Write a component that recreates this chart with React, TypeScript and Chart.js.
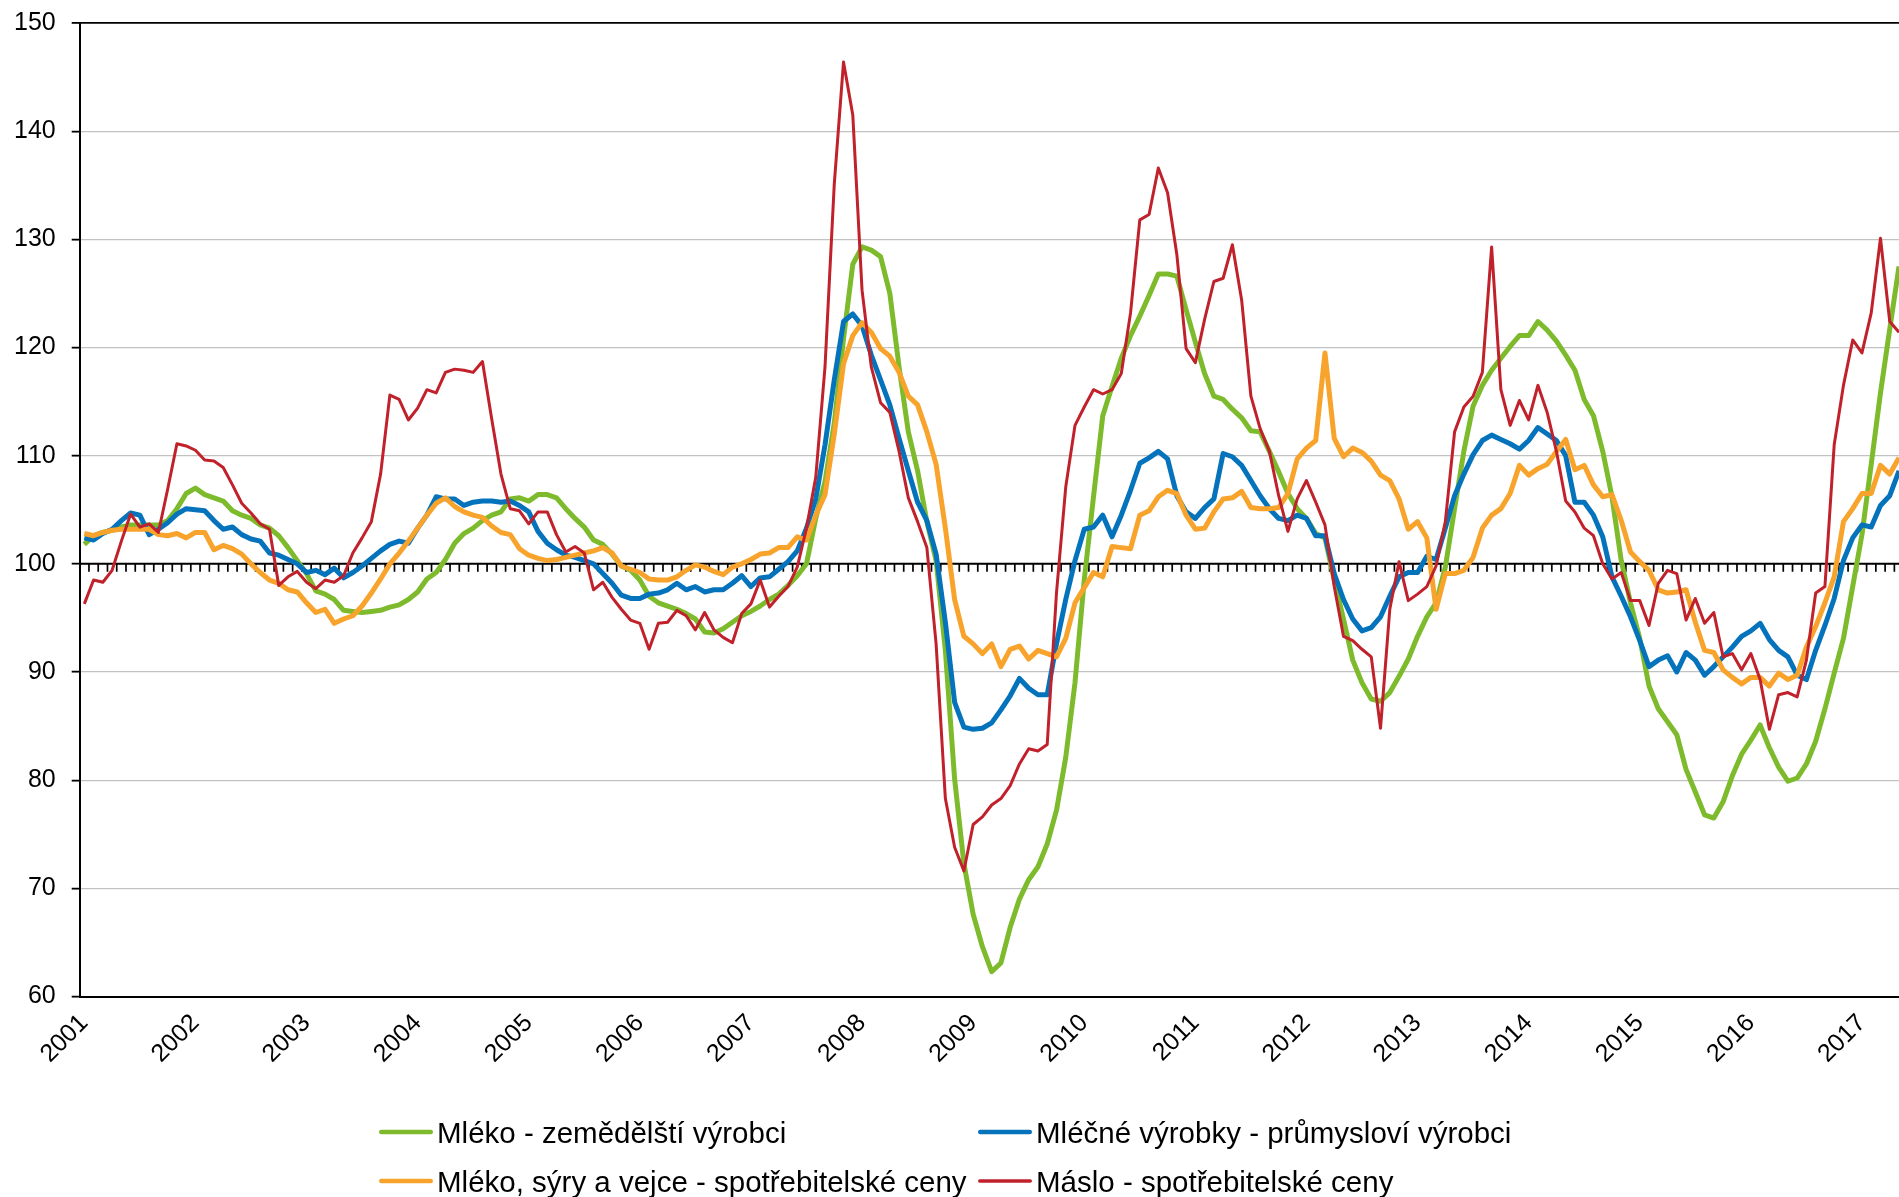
import { useEffect, useRef } from 'react';
import { Chart, registerables } from 'chart.js';

Chart.register(...registerables);

// ---------------- DATA ----------------
const yearLabels = ['2001', '2002', '2003', '2004', '2005', '2006', '2007', '2008', '2009', '2010', '2011', '2012', '2013', '2014', '2015', '2016', '2017'];
const monthsPerYear = 12;
const referenceValue = 100;
const yMin = 60;
const yMax = 150;
const yStep = 10;

const seriesLabels = [
  'Mléko - zemědělští výrobci',
  'Mléčné výrobky - průmysloví výrobci',
  'Mléko, sýry a vejce - spotřebitelské ceny',
  'Máslo - spotřebitelské ceny',
];

// monthly values, Jan 2001 – May 2017
const mlekoZemedelstiVyrobci = [
  101.8, 102.6, 102.9, 103.1, 103.4, 103.6, 103.6, 103.6, 103.6, 104.0, 105.1, 106.5,
  107.0, 106.4, 106.1, 105.8, 104.9, 104.5, 104.2, 103.6, 103.3, 102.6, 101.5, 100.3,
  99.1, 97.5, 97.2, 96.7, 95.7, 95.6, 95.5, 95.6, 95.7, 96.0, 96.2, 96.7,
  97.4, 98.6, 99.2, 100.4, 101.9, 102.8, 103.3, 104.0, 104.5, 104.8, 106.0, 106.1,
  105.8, 106.4, 106.4, 106.1, 105.1, 104.2, 103.4, 102.2, 101.8, 100.9, 99.8, 99.4,
  98.5, 97.0, 96.4, 96.1, 95.8, 95.4, 94.9, 93.7, 93.6, 94.0, 94.6, 95.2,
  95.6, 96.1, 96.7, 97.2, 98.0, 98.9, 100.0, 104.2, 107.6, 113.0, 120.8, 127.7,
  129.3, 129.0, 128.4, 125.0, 118.2, 112.2, 108.6, 103.9, 100.3, 92.0, 80.1, 72.3,
  67.6, 64.6, 62.3, 63.1, 66.4, 69.0, 70.8, 72.0, 74.1, 77.2, 82.1, 89.0,
  98.5, 106.2, 113.7, 116.4, 119.0, 121.1, 122.9, 124.8, 126.8, 126.8, 126.6, 123.5,
  120.5, 117.6, 115.5, 115.2, 114.3, 113.5, 112.3, 112.2, 110.4, 108.5, 106.5, 105.1,
  104.2, 102.8, 102.4, 98.5, 94.9, 91.1, 89.0, 87.5, 87.3, 88.1, 89.6, 91.2,
  93.3, 95.1, 96.4, 99.7, 105.1, 110.4, 114.6, 116.5, 117.9, 119.0, 120.1, 121.1,
  121.1, 122.4, 121.6, 120.6, 119.3, 117.9, 115.2, 113.7, 110.4, 106.2, 100.3, 96.4,
  93.1, 88.7, 86.6, 85.4, 84.2, 81.0, 78.9, 76.8, 76.5, 78.0, 80.4, 82.4,
  83.7, 85.1, 83.0, 81.2, 79.9, 80.2, 81.5, 83.6, 86.6, 89.9, 93.1, 97.9,
  102.7, 109.2, 115.8, 121.7, 127.5,
];

const mlecneVyrobkyPrumyslovi = [
  102.4, 102.2, 102.8, 103.2, 104.0, 104.7, 104.5, 102.7, 103.2, 103.8, 104.6, 105.1,
  105.0, 104.9, 104.0, 103.2, 103.4, 102.7, 102.3, 102.1, 101.0, 100.8, 100.4, 100.0,
  99.2, 99.4, 99.0, 99.6, 98.7, 99.2, 99.8, 100.5, 101.2, 101.8, 102.1, 101.9,
  103.3, 104.5, 106.2, 106.0, 106.0, 105.4, 105.7, 105.8, 105.8, 105.7, 105.8, 105.4,
  104.8, 103.0, 101.9, 101.3, 100.8, 100.6, 100.3, 100.0, 99.1, 98.2, 97.1, 96.8,
  96.8, 97.2, 97.3, 97.6, 98.2, 97.6, 97.9, 97.4, 97.6, 97.6, 98.2, 98.9,
  97.9, 98.7, 98.8, 99.5, 100.2, 101.2, 103.3, 106.0, 111.0, 117.0, 122.4, 123.1,
  122.0, 119.3, 117.0, 114.7, 111.6, 108.6, 105.7, 104.0, 100.9, 94.6, 87.2, 84.9,
  84.7, 84.8, 85.3, 86.5, 87.8, 89.4, 88.5, 87.9, 87.9, 92.6, 96.7, 100.3,
  103.2, 103.4, 104.5, 102.5, 104.5, 106.8, 109.3, 109.8, 110.4, 109.7, 106.3, 104.8,
  104.2, 105.2, 106.0, 110.2, 109.9, 109.1, 107.7, 106.3, 105.1, 104.2, 104.0, 104.5,
  104.2, 102.6, 102.6, 99.1, 96.7, 94.9, 93.8, 94.1, 95.1, 97.0, 98.8, 99.2,
  99.2, 100.7, 100.4, 103.3, 106.3, 108.3, 110.1, 111.4, 111.9, 111.5, 111.1, 110.6,
  111.4, 112.6, 112.0, 111.4, 110.0, 105.7, 105.7, 104.5, 102.5, 98.8, 97.0, 95.1,
  92.9, 90.5, 91.1, 91.5, 90.0, 91.8, 91.1, 89.7, 90.5, 91.4, 92.3, 93.3,
  93.8, 94.5, 93.0, 92.0, 91.4, 89.7, 89.3, 92.0, 94.3, 96.8, 100.3, 102.4,
  103.6, 103.4, 105.4, 106.3, 108.6,
];

const mlekoSyryVejceSpotrebitel = [
  102.8, 102.6, 102.9, 103.1, 103.2, 103.2, 103.2, 103.2, 102.7, 102.6, 102.8, 102.4,
  102.9, 102.9, 101.3, 101.7, 101.4, 100.9, 100.0, 99.2, 98.5, 98.2, 97.6, 97.4,
  96.4, 95.5, 95.8, 94.5, 94.9, 95.2, 96.1, 97.3, 98.6, 100.0, 101.0, 102.1,
  103.3, 104.5, 105.6, 106.1, 105.3, 104.8, 104.5, 104.3, 103.5, 102.9, 102.7, 101.4,
  100.8, 100.5, 100.3, 100.4, 100.6, 100.8, 101.0, 101.2, 101.5, 101.0, 99.8, 99.5,
  99.2, 98.6, 98.5, 98.5, 98.8, 99.4, 99.9, 99.7, 99.3, 99.0, 99.7, 100.0,
  100.4, 100.9, 101.0, 101.5, 101.5, 102.5, 102.2, 104.5, 106.4, 112.0, 118.5, 121.1,
  122.3, 121.4, 119.9, 119.2, 117.7, 115.5, 114.7, 112.2, 109.2, 103.3, 96.7, 93.3,
  92.6, 91.7, 92.6, 90.5, 92.1, 92.4, 91.2, 92.0, 91.7, 91.4, 93.1, 96.4,
  97.8, 99.2, 98.8, 101.6, 101.5, 101.4, 104.5, 104.9, 106.2, 106.8, 106.5, 104.5,
  103.2, 103.3, 104.8, 106.0, 106.1, 106.7, 105.2, 105.1, 105.1, 105.2, 106.5, 109.7,
  110.7, 111.4, 119.5, 111.6, 109.9, 110.7, 110.3, 109.5, 108.2, 107.7, 106.0, 103.2,
  103.9, 102.4, 95.8, 99.1, 99.1, 99.4, 100.6, 103.3, 104.5, 105.1, 106.5, 109.1,
  108.2, 108.8, 109.2, 110.4, 111.5, 108.7, 109.1, 107.3, 106.2, 106.4, 104.0, 101.1,
  100.2, 99.4, 97.6, 97.3, 97.4, 97.6, 94.6, 92.0, 91.8, 90.2, 89.5, 88.9,
  89.5, 89.5, 88.7, 89.9, 89.3, 89.7, 92.3, 94.2, 96.4, 98.8, 103.9, 105.1,
  106.5, 106.5, 109.1, 108.3, 109.8,
];

const masloSpotrebitel = [
  96.3, 98.5, 98.3, 99.4, 102.1, 104.6, 103.4, 103.7, 102.9, 106.9, 111.1, 110.9,
  110.5, 109.6, 109.5, 108.9, 107.3, 105.6, 104.7, 103.7, 103.2, 98.0, 98.8, 99.3,
  98.3, 97.7, 98.5, 98.3, 98.9, 101.0, 102.4, 103.9, 108.3, 115.6, 115.2, 113.3,
  114.4, 116.1, 115.8, 117.7, 118.0, 117.9, 117.7, 118.7, 113.4, 108.3, 105.1, 104.9,
  103.7, 104.8, 104.8, 102.7, 101.1, 101.6, 101.0, 97.6, 98.3, 96.9, 95.8, 94.8,
  94.5, 92.1, 94.5, 94.6, 95.7, 95.2, 93.9, 95.5, 93.9, 93.2, 92.7, 95.4,
  96.3, 98.5, 96.0, 97.0, 97.9, 99.7, 103.3, 108.0, 118.2, 135.1, 146.4, 141.5,
  125.3, 118.2, 114.9, 114.0, 110.4, 106.1, 103.9, 101.5, 92.6, 78.3, 73.8, 71.6,
  75.9, 76.6, 77.7, 78.3, 79.5, 81.5, 82.9, 82.7, 83.3, 97.3, 107.1, 112.8,
  114.5, 116.1, 115.7, 116.1, 117.6, 123.2, 131.8, 132.3, 136.6, 134.3, 128.6, 119.9,
  118.6, 122.6, 126.1, 126.4, 129.5, 124.4, 115.5, 112.5, 110.4, 106.3, 103.0, 106.0,
  107.7, 105.7, 103.6, 97.9, 93.3, 92.9, 92.1, 91.4, 84.8, 95.8, 100.2, 96.6,
  97.2, 97.9, 99.8, 103.9, 112.2, 114.5, 115.5, 117.7, 129.3, 116.1, 112.8, 115.1,
  113.3, 116.5, 114.0, 110.4, 105.8, 104.8, 103.3, 102.6, 100.0, 98.6, 99.2, 96.6,
  96.6, 94.3, 98.2, 99.4, 99.1, 94.8, 96.8, 94.5, 95.5, 91.4, 91.7, 90.2,
  91.7, 89.3, 84.7, 87.9, 88.1, 87.7, 91.1, 97.3, 97.9, 111.0, 116.5, 120.7,
  119.5, 123.2, 130.1, 122.4, 121.4,
];

const pointCount = mlekoZemedelstiVyrobci.length;

// ---------------- STYLE ----------------
const FONT = "'Liberation Sans', Arial, Helvetica, sans-serif";
const seriesColors = ['#7DBB2C', '#0573BC', '#F8A32C', '#C0212B'];
const seriesWidths = [5, 5, 5, 3];
const seriesOrder = [4, 3, 2, 1];

const legendSlots = [
  { x0: 379, x1: 433, tx: 437, y: 1132 },
  { x0: 978, x1: 1032, tx: 1036, y: 1132 },
  { x0: 379, x1: 433, tx: 437, y: 1181 },
  { x0: 978, x1: 1032, tx: 1036, y: 1181 },
];

const baselineAxisPlugin = {
  id: 'baselineAxis',
  beforeDatasetsDraw(chart: any) {
    const { ctx, chartArea, scales } = chart;
    const xs = scales.x;
    const ys = scales.y;
    const yp = ys.getPixelForValue(referenceValue);
    ctx.save();
    ctx.strokeStyle = '#000';
    ctx.lineWidth = 2;
    ctx.beginPath();
    ctx.moveTo(chartArea.left, yp);
    ctx.lineTo(chartArea.right, yp);
    ctx.stroke();
    ctx.lineWidth = 1.7;
    ctx.beginPath();
    for (let k = 1; k <= pointCount + 1; k++) {
      const xp = xs.getPixelForValue(k - 0.5);
      if (xp > chartArea.right + 0.5) break;
      ctx.moveTo(xp, yp);
      ctx.lineTo(xp, yp + 8);
    }
    ctx.stroke();
    ctx.restore();
  },
};

const gridLegendPlugin = {
  id: 'gridLegend',
  afterDraw(chart: any) {
    const ctx = chart.ctx;
    ctx.save();
    chart.data.datasets.forEach((ds: any, idx: number) => {
      const s = legendSlots[idx];
      if (!s) return;
      const w = Math.max(ds.borderWidth - 0.5, 3.5);
      ctx.strokeStyle = ds.borderColor;
      ctx.lineWidth = w;
      ctx.lineCap = 'round';
      ctx.beginPath();
      ctx.moveTo(s.x0 + w / 2, s.y);
      ctx.lineTo(s.x1 - w / 2, s.y);
      ctx.stroke();
      ctx.fillStyle = '#000';
      ctx.font = `29.5px ${FONT}`;
      ctx.textAlign = 'left';
      ctx.textBaseline = 'alphabetic';
      ctx.fillText(ds.label, s.tx, s.y + 10.5);
    });
    ctx.restore();
  },
};

export default function App() {
  const canvasRef = useRef<HTMLCanvasElement | null>(null);

  useEffect(() => {
    if (!canvasRef.current) return;
    const seriesValues = [mlekoZemedelstiVyrobci, mlecneVyrobkyPrumyslovi, mlekoSyryVejceSpotrebitel, masloSpotrebitel];
    const chart = new Chart(canvasRef.current, {
      type: 'line',
      data: {
        datasets: seriesValues.map((vals, si) => ({
          label: seriesLabels[si],
          data: vals.map((v, i) => ({ x: i, y: v })),
          borderColor: seriesColors[si],
          backgroundColor: seriesColors[si],
          borderWidth: seriesWidths[si],
          pointRadius: 0,
          tension: 0,
          borderJoinStyle: 'round' as const,
          borderCapStyle: 'butt' as const,
          fill: false,
          order: seriesOrder[si],
        })),
      },
      options: {
        responsive: false,
        animation: false,
        devicePixelRatio: 1,
        events: [],
        layout: { padding: { top: 23, right: 0, bottom: 100.5, left: 0 } },
        plugins: {
          legend: { display: false },
          tooltip: { enabled: false },
          title: { display: false },
        },
        scales: {
          x: {
            type: 'linear',
            min: -0.5,
            max: pointCount - 1,
            afterBuildTicks: (scale: any) => {
              scale.ticks = yearLabels.map((_, k) => ({ value: k * monthsPerYear }));
            },
            afterFit: (scale: any) => {
              scale.height = 100;
            },
            ticks: {
              autoSkip: false,
              maxRotation: 45,
              minRotation: 45,
              padding: 12,
              color: '#000',
              font: { size: 25, family: FONT },
              callback: (value: any) => yearLabels[Math.round(Number(value) / monthsPerYear)] ?? '',
            },
            grid: { display: false, drawTicks: false },
            border: { display: true, color: '#000', width: 2 },
          },
          y: {
            type: 'linear',
            min: yMin,
            max: yMax,
            afterFit: (scale: any) => {
              scale.width = 79.7;
              scale.paddingTop = 0;
              scale.paddingBottom = 0;
            },
            ticks: {
              stepSize: yStep,
              padding: 16,
              color: '#000',
              font: { size: 25, family: FONT },
            },
            grid: {
              color: (ctx: any) => (ctx.tick && ctx.tick.value === yMax ? '#000' : '#c2c2c2'),
              lineWidth: (ctx: any) => (ctx.tick && ctx.tick.value === yMax ? 1.8 : 1.3),
              tickColor: '#000',
              tickLength: 8,
              tickWidth: 1.8,
              drawTicks: true,
            },
            border: { display: true, color: '#000', width: 2 },
          },
        },
      } as any,
      plugins: [baselineAxisPlugin, gridLegendPlugin],
    });
    return () => chart.destroy();
  }, []);

  return (
    <div style={{ position: 'fixed', left: 0, top: 0, width: 1899, height: 1197, background: '#fff' }}>
      <canvas ref={canvasRef} width={1899} height={1197} style={{ display: 'block' }} />
    </div>
  );
}
